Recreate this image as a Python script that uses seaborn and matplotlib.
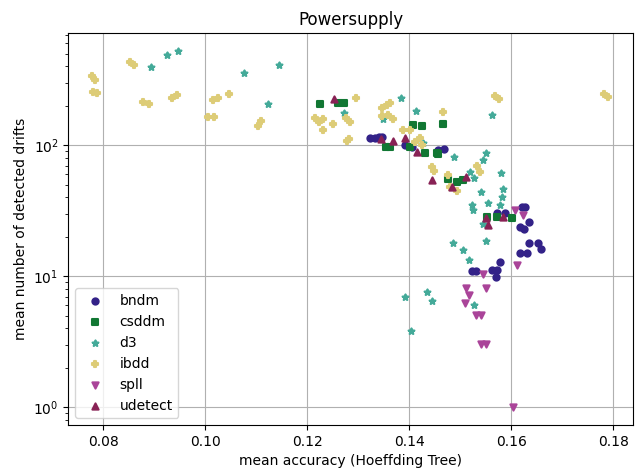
import numpy as np
import pandas as pd
import matplotlib
matplotlib.use("Agg")
import matplotlib.pyplot as plt
import seaborn as sns

# Mean accuracy (Hoeffding Tree) and mean number of detected drifts per detector run
bndm_x = [0.1323, 0.1333, 0.1341, 0.1347, 0.1392, 0.1406, 0.1457, 0.1469,
          0.1622, 0.1627, 0.1573, 0.1588, 0.1635, 0.1618, 0.1625, 0.1635,
          0.1653, 0.1659, 0.1618, 0.1631, 0.1578, 0.1563, 0.1573, 0.1524,
          0.1530, 0.1570]
bndm_y = [113, 113, 115, 115, 100, 96.6, 91.6, 94,
          33.6, 33.6, 30.3, 30.3, 25.8, 23.7, 22.8, 17.9,
          17.9, 16.1, 15, 15, 12.8, 11.1, 11.1, 10.9,
          10.9, 9.8]

csddm_x = [0.1224, 0.1261, 0.1271, 0.1408, 0.1425, 0.1467, 0.1355, 0.1363,
           0.1402, 0.1431, 0.1455, 0.1457, 0.1475, 0.1494, 0.1506, 0.1553,
           0.1573, 0.1602]
csddm_y = [206, 209, 209, 142, 140, 145, 96.6, 96.6,
           96.6, 86.9, 87, 85, 55, 52, 54, 28.2,
           28.2, 27.6]

d3_x = [0.0894, 0.0924, 0.0947, 0.1075, 0.1145, 0.1122, 0.1271, 0.1384,
        0.1414, 0.1349, 0.1427, 0.1488, 0.1551, 0.1545, 0.1520, 0.1527,
        0.1580, 0.1541, 0.1584, 0.1582, 0.1524, 0.1525, 0.1555, 0.1578,
        0.1545, 0.1486, 0.1506, 0.1551, 0.1518, 0.1392, 0.1435, 0.1445,
        0.1527, 0.1404, 0.1563]
d3_y = [394, 486, 522, 355, 408, 206, 176, 228,
        182, 158, 104, 82, 87, 77, 63, 56,
        61, 44, 46, 40, 35, 32, 36, 35,
        25, 17.9, 15.8, 18.5, 13.3, 6.9, 7.55, 6.45,
        6.0, 3.8, 169]

ibdd_x = [0.0778, 0.0784, 0.0780, 0.0788, 0.0853, 0.0859, 0.0878, 0.0890,
          0.0935, 0.0945, 0.1014, 0.1025, 0.1047, 0.1006, 0.1016, 0.1104,
          0.1110, 0.1296, 0.1216, 0.1222, 0.1231, 0.1251, 0.1231, 0.1275,
          0.1284, 0.1278, 0.1282, 0.1347, 0.1357, 0.1363, 0.1347, 0.1359,
          0.1369, 0.1388, 0.1402, 0.1412, 0.1422, 0.1425, 0.1467, 0.1445,
          0.1449, 0.1475, 0.1494, 0.1480, 0.1533, 0.1539, 0.1569, 0.1576,
          0.1782, 0.1790]
ibdd_y = [336, 313, 254, 249, 430, 408, 213, 206,
          228, 241, 221, 228, 245, 164, 164, 140,
          152, 228, 161, 150, 158, 145, 130, 161,
          150, 107, 111, 192, 202, 209, 166, 169,
          158, 130, 130, 105, 113, 100, 179, 68,
          64, 59, 45, 48, 70, 62, 237, 224,
          245, 232]

spll_x = [0.1608, 0.1624, 0.1612, 0.1545, 0.1512, 0.1518, 0.1551, 0.1510,
          0.1531, 0.1541, 0.1541, 0.1551, 0.1604]
spll_y = [31.9, 29.2, 12.1, 10.4, 8.1, 7.2, 8.1, 6.2,
          5.1, 5.1, 3.03, 3.03, 1.0]

udetect_x = [0.1253, 0.1345, 0.1369, 0.1392, 0.1416, 0.1445, 0.1484, 0.1512,
             0.1551, 0.1555, 0.1584]
udetect_y = [224, 111, 107, 113, 88.5, 54, 47.8, 57,
             27.6, 24.5, 28.2]

detectors = ["bndm", "csddm", "d3", "ibdd", "spll", "udetect"]
series = {
    "bndm": (bndm_x, bndm_y),
    "csddm": (csddm_x, csddm_y),
    "d3": (d3_x, d3_y),
    "ibdd": (ibdd_x, ibdd_y),
    "spll": (spll_x, spll_y),
    "udetect": (udetect_x, udetect_y),
}

frames = [pd.DataFrame({"accuracy": xs, "drifts": ys, "detector": name})
          for name, (xs, ys) in series.items()]
df = pd.concat(frames, ignore_index=True)

palette = {"bndm": "#332288", "csddm": "#117733", "d3": "#44AA99",
           "ibdd": "#DDCC77", "spll": "#AA4499", "udetect": "#882255"}
markers = {"bndm": "o", "csddm": "s", "d3": "*", "ibdd": "P",
           "spll": "v", "udetect": "^"}

fig, ax = plt.subplots(figsize=(6.44, 4.75), dpi=100)
for name in detectors:
    sub = df[df["detector"] == name]
    sns.scatterplot(data=sub, x="accuracy", y="drifts", color=palette[name],
                    marker=markers[name], s=20, linewidth=1.5,
                    edgecolor=palette[name], label=name, ax=ax)

ax.set_yscale("log")
ax.set_xlim(0.0731, 0.1839)
ax.set_ylim(0.73, 716)
ax.grid(True, which="major", color="#b0b0b0", linewidth=0.8)
ax.set_axisbelow(True)
ax.set_title("Powersupply")
ax.set_xlabel("mean accuracy (Hoeffding Tree)")
ax.set_ylabel("mean number of detected drifts")
ax.legend(loc="lower left", title=None)

fig.subplots_adjust(left=0.106, right=0.983, top=0.930, bottom=0.105)
fig.savefig("out.png", dpi=100)
